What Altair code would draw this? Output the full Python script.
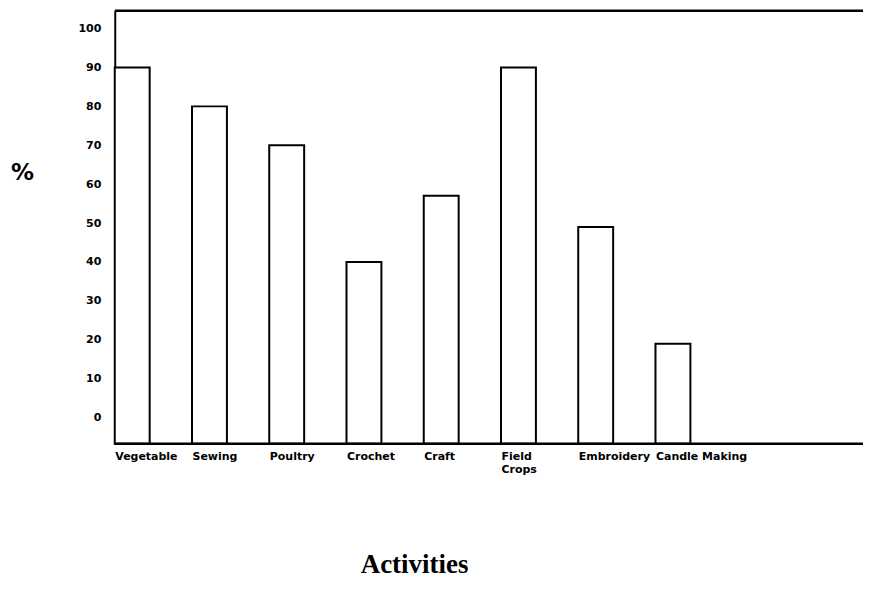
import altair as alt
import pandas as pd

categories = ["Vegetable", "Sewing", "Poultry", "Crochet", "Craft",
              "Field Crops", "Embroidery", "Candle Making"]
values = [90, 80, 70, 40, 57, 90, 49, 19]
y_ticks = [0, 10, 20, 30, 40, 50, 60, 70, 80, 90, 100]

y_min, y_max = -6.7, 104.6

df = pd.DataFrame({"activity": categories, "pct": values})

y_scale = alt.Scale(domain=[y_min, y_max], nice=False, zero=False)

y_axis = alt.Axis(
    title="%",
    titleAngle=0,
    titleX=-93,
    titleY=162,
    titleAlign="center",
    titleBaseline="middle",
    titleFont="DejaVu Sans",
    titleFontWeight="bold",
    titleFontSize=23,
    titleColor="black",
    values=y_ticks,
    labelFont="DejaVu Sans",
    labelFontWeight="bold",
    labelFontSize=11,
    labelColor="black",
    labelPadding=14,
    ticks=False,
    domainColor="black",
    domainWidth=2,
    grid=False,
)

bars = alt.Chart(df).mark_bar(fill="white", stroke="black", strokeWidth=2).encode(
    x=alt.X(
        "activity:N",
        sort=categories,
        scale=alt.Scale(type="band", paddingInner=0.548, paddingOuter=0, range=[0, 577]),
        axis=alt.Axis(
            title="Activities",
            titleFont="Liberation Serif",
            titleFontWeight="bold",
            titleFontSize=27,
            titleColor="black",
            titleX=300,
            titleY=121,
            titleAlign="center",
            titleBaseline="middle",
            labelAngle=0,
            labelAlign="left",
            labelBaseline="top",
            labelOffset=-17,
            labelPadding=7,
            labelFont="DejaVu Sans",
            labelFontWeight="bold",
            labelFontSize=11,
            labelColor="black",
            labelOverlap=False,
            labelLineHeight=13,
            labelExpr="datum.label == 'Field Crops' ? ['Field', 'Crops'] : datum.label",
            ticks=False,
            domain=False,
            grid=False,
        ),
    ),
    y=alt.Y("pct:Q", scale=y_scale, axis=y_axis),
    y2=alt.datum(y_min),
)

frame_df = pd.DataFrame({"pct": [y_min, y_max]})
frame = alt.Chart(frame_df).mark_rule(color="black", strokeWidth=2.5).encode(
    y=alt.Y("pct:Q", scale=y_scale, axis=y_axis)
)

chart = alt.layer(bars, frame).properties(
    width=750,
    height=434,
    padding={"left": 107, "top": 2, "right": 0, "bottom": 145},
    autosize=alt.AutoSizeParams(type="none"),
    background="white",
).configure_view(stroke=None)

chart.save("out.html", embed_options={"renderer": "svg", "actions": False})
